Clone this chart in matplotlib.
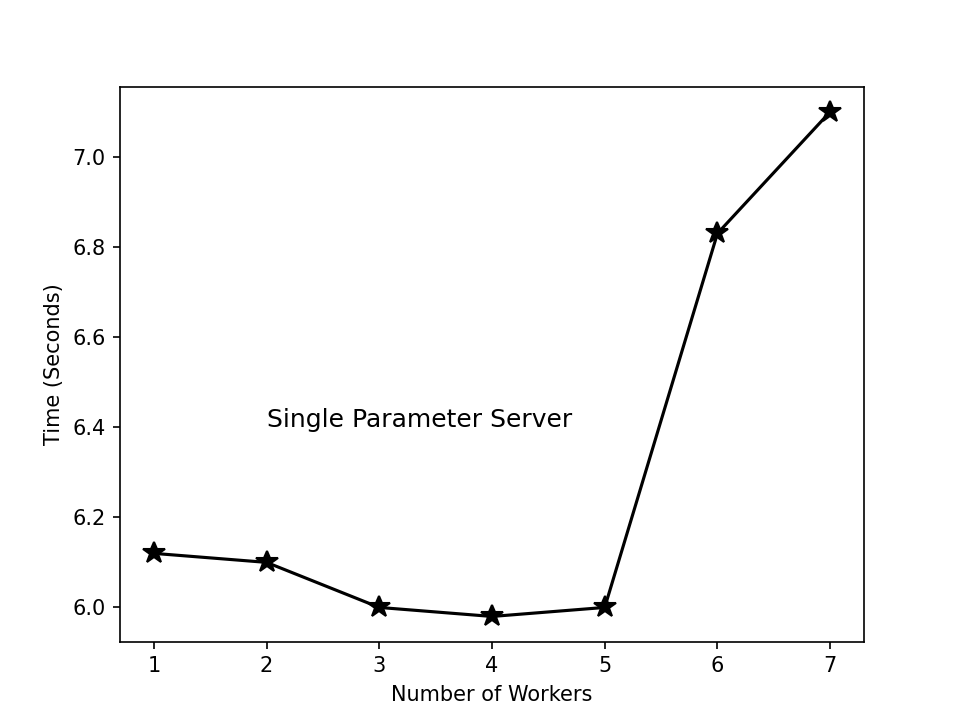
import matplotlib
matplotlib.use('Agg')
import matplotlib.pyplot as plt

workers = [1, 2, 3, 4, 5, 6, 7]
times = [6.12, 6.10, 6.00, 5.98, 6.00, 6.83, 7.10]

fig = plt.figure(figsize=(6.4, 721 / 150), dpi=150)
plt.plot(workers, times, 'k-*', markersize=11)
plt.text(2, 6.4, 'Single Parameter Server', fontsize=12)
plt.xlabel('Number of Workers')
plt.ylabel('Time (Seconds)')
plt.savefig('out.png', dpi=150)
